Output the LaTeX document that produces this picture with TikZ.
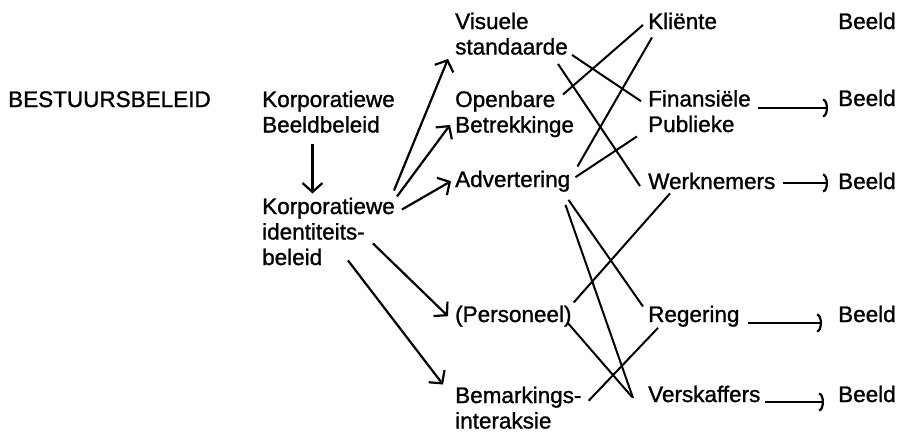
\documentclass[tikz,border=0pt]{standalone}
\usepackage{fontspec}
\setmainfont{Liberation Sans}[FakeBold=1.2]
\usetikzlibrary{arrows.meta}
\begin{document}
\begin{tikzpicture}[
            x=1pt, y=-1pt,
            every node/.style={anchor=base west, align=left, inner sep=4pt,
                font=\fontsize{22.5}{25.5}\selectfont},
            link/.style={line width=2pt},
            pijl/.style={line width=2.2pt, -{Straight Barb[length=9pt,width=20pt]}},
            beeldpijl/.style={line width=2.2pt, shorten >=6pt, -{Arc Barb[length=5pt,width=19pt]}}
            ]
            \useasboundingbox (0,0) rectangle (901,432);
            \node (bestuur) at (4,107) {BESTUURSBELEID};
            \node (kbb) at (258,132.5) {Korporatiewe\\Beeldbeleid};
            \node (kib) at (258,265) {Korporatiewe\\identiteits-\\beleid};

            \node (visueel) at (451,54.5) {Visuele\\standaarde};
            \node (openbaar) at (451,132.5) {Openbare\\Betrekkinge};
            \node (advert) at (451,187) {Advertering};
            \node (personeel) at (451,322) {(Personeel)};
            \node (bemark) at (451,428.5) {Bemarkings-\\interaksie};

            \node (klient) at (644,29) {Kliënte};
            \node (finans) at (644,132) {Finansiële\\Publieke};
            \node (werk) at (644,189) {Werknemers};
            \node (regering) at (644,322) {Regering};
            \node (verskaf) at (644,402) {Verskaffers};

            \node (b1) at (834,29) {Beeld};
            \node (b2) at (834,106) {Beeld};
            \node (b3) at (834,189) {Beeld};
            \node (b4) at (834,322) {Beeld};
            \node (b5) at (834,402) {Beeld};

            \draw[pijl, shorten <=7pt] ([xshift=-16pt]kbb.south) -- ([xshift=-16pt]kib.north);
            \draw[pijl] ([xshift=-5pt,yshift=3pt]kib.north east) -- ([xshift=-3pt]visueel.south west);
            \draw[pijl] ([xshift=-2pt,yshift=-3pt]kib.north east) -- ([xshift=-1pt,yshift=-11pt]openbaar.west);
            \draw[pijl] ([xshift=3pt,yshift=-16pt]kib.north east) -- (advert.west);
            \draw[pijl] ([xshift=-26pt,yshift=-12pt]kib.east) -- ([xshift=-3pt]personeel.west);
            \draw[pijl] ([xshift=-51pt,yshift=9pt]kib.south east) -- ([xshift=-8pt,yshift=-2pt]bemark.north west);

            \draw[link] ([yshift=4pt]visueel.south east) -- ([xshift=-3pt,yshift=10pt]finans.west);
            \draw[link] ([xshift=-14pt,yshift=-5pt]visueel.south east) -- ([xshift=-4pt,yshift=-5pt]werk.west);
            \draw[link] ([xshift=112pt,yshift=-8pt]openbaar.north west) -- ([xshift=-1pt,yshift=-4pt]klient.west);
            \draw[link] ([xshift=3pt]advert.north east) -- ([xshift=8pt,yshift=-4pt]klient.south west);
            \draw[link] ([xshift=1pt,yshift=4pt]advert.east) -- ([xshift=-7pt]finans.south west);
            \draw[link] ([xshift=-6pt,yshift=-4pt]advert.south east) -- ([xshift=-1pt,yshift=-5pt]regering.north west);
            \draw[link] ([xshift=-9pt,yshift=-9pt]advert.south east) -- ([xshift=-11pt,yshift=-4pt]verskaf.west);
            \draw[link] ([xshift=-2pt,yshift=-1pt]personeel.north east) -- ([xshift=26pt]werk.south west);
            \draw[link] ([xshift=-8pt,yshift=8pt]personeel.south east) -- ([xshift=-12pt,yshift=-3pt]verskaf.west);
            \draw[link] ([xshift=3pt,yshift=7pt]bemark.east) -- ([xshift=14pt,yshift=3pt]regering.south west);

            \draw[beeldpijl] ([xshift=3pt,yshift=24pt]finans.base east) -- ([yshift=-2pt]b2.base west);
            \draw[beeldpijl] ([xshift=3pt,yshift=6pt]werk.base east) -- ([yshift=6pt]b3.base west);
            \draw[beeldpijl] ([xshift=4pt,yshift=-1pt]regering.base east) -- ([xshift=-6pt,yshift=-1pt]b4.base west);
            \draw[beeldpijl] (verskaf.base east) -- ([xshift=-4pt]b5.base west);
\end{tikzpicture}
\end{document}
